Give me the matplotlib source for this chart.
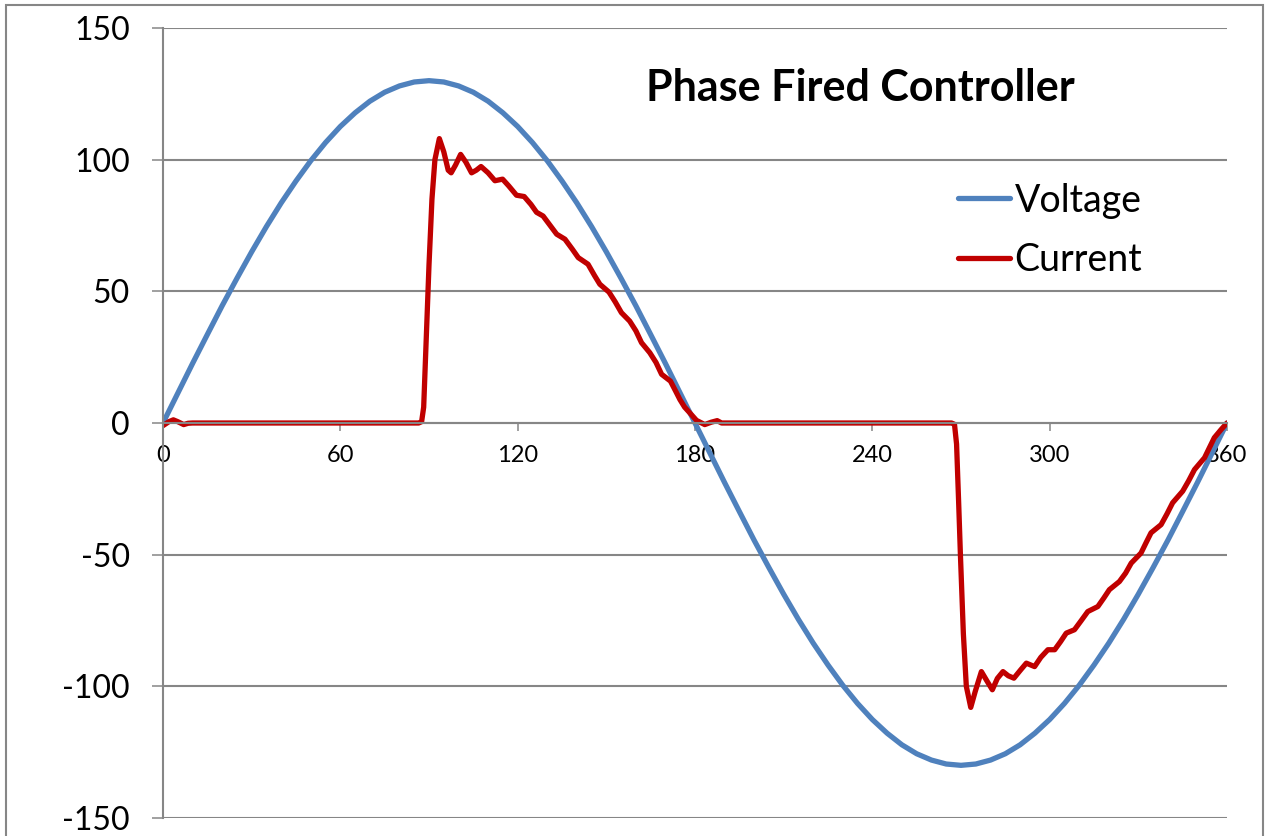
import matplotlib.pyplot as plt
from matplotlib.patches import Rectangle

plt.rcParams['font.family'] = ['Lato', 'DejaVu Sans']
plt.rcParams['axes.unicode_minus'] = False

# Voltage, read every 5 degrees
volt_deg = list(range(0, 361, 5))
volt = [0, 11.3, 22.6, 33.6, 44.5, 54.9, 65.0, 74.6, 83.6, 91.9,
        99.6, 106.5, 112.6, 117.8, 122.2, 125.6, 128.0, 129.5, 130.0,
        129.5, 128.0, 125.6, 122.2, 117.8, 112.6, 106.5, 99.6, 91.9,
        83.6, 74.6, 65.0, 54.9, 44.5, 33.6, 22.6, 11.3, 0,
        -11.3, -22.6, -33.6, -44.5, -54.9, -65.0, -74.6, -83.6, -91.9,
        -99.6, -106.5, -112.6, -117.8, -122.2, -125.6, -128.0, -129.5, -130.0,
        -129.5, -128.0, -125.6, -122.2, -117.8, -112.6, -106.5, -99.6, -91.9,
        -83.6, -74.6, -65.0, -54.9, -44.5, -33.6, -22.6, -11.3, 0]

# Current, read at turning points
curr_deg = [0, 2, 3.5, 5, 7, 8.5, 10, 86.5, 87.5, 88.2, 89, 90, 91, 92, 93.5, 95, 96.5,
            97.5, 99, 100.7, 102.5, 104.4, 106, 107.6, 110, 112.3, 114.9, 117,
            119.6, 122.2, 124.5, 126.4, 128.6, 131, 133.2, 136, 138.5, 140.5,
            143.8, 146, 147.8, 150.9, 153, 155.1, 157.9, 160, 161.9, 164.7,
            166.8, 168.7, 171.7, 173.5, 174.9, 176.5, 178.2, 180.5, 183.3,
            185.5, 187.5, 189, 266.8, 267.8, 268.5, 269.2, 269.8, 270.8, 271.8, 273.3,
            274.8, 276.9, 278.8, 280.6, 282.3, 284.2, 286, 287.9, 290, 292.1,
            294.9, 297, 299.4, 301.7, 303.7, 305.6, 308.4, 310.7, 312.9, 316.3,
            318.3, 320.2, 323.6, 325.7, 327.6, 330.9, 332.6, 334.3, 337.7,
            339.7, 341.6, 345, 347, 349, 352.4, 354, 355.7, 358, 360]
curr = [-1.0, 0.5, 1.2, 0.5, -0.6, -0.1, 0, 0, 0.5, 6, 30, 60, 85, 100, 108, 103, 96,
        95, 98, 102, 99, 95, 96, 97.4, 95, 92, 92.6, 90,
        86.5, 86, 83, 80, 78.6, 75, 71.7, 69.8, 66, 62.8,
        60.3, 56, 52.7, 49.7, 46, 41.9, 38.7, 35, 30.5, 26.7,
        23, 18.5, 15.9, 12, 8.9, 6, 3.9, 1, -0.6,
        0.3, 0.9, 0, 0, -0.5, -8, -30, -50, -80, -100, -108,
        -102, -94.4, -98, -101.3, -97, -94.4, -96, -96.9, -94, -91.2,
        -92.5, -89, -86.1, -86.1, -83, -79.8, -78.5, -75, -71.6, -69.7,
        -66.5, -63.3, -60.2, -57, -53.2, -49.4, -45.5, -41.7, -38.6,
        -34.5, -30.3, -25.9, -22, -17.7, -13.2, -9.5, -5.6, -2.5, 0]

x_ticks = [0, 60, 120, 180, 240, 300, 360]
y_ticks = [-150, -100, -50, 0, 50, 100, 150]

grey = "#868686"

fig = plt.figure(figsize=(12.66, 8.36), dpi=100)
ax = fig.add_axes([163 / 1266, 1 - 818 / 836, (1227 - 163) / 1266, 790 / 836])

ax.plot(volt_deg, volt, color="#4F81BD", lw=3.8, label="Voltage",
        solid_capstyle="round", solid_joinstyle="round")
ax.plot(curr_deg, curr, color="#C00000", lw=3.8, label="Current",
        solid_capstyle="round", solid_joinstyle="round")

ax.set_xlim(0, 360)
ax.set_ylim(-150, 150)
ax.set_xticks(x_ticks)
ax.set_yticks(y_ticks)
ax.yaxis.grid(True, color=grey, lw=1.5)
ax.set_axisbelow(True)

for s in ["top", "right"]:
    ax.spines[s].set_visible(False)
ax.spines["left"].set_color(grey)
ax.spines["left"].set_linewidth(1.5)
ax.spines["bottom"].set_position(("data", 0))
ax.spines["bottom"].set_color(grey)
ax.spines["bottom"].set_linewidth(1.5)

ax.tick_params(axis="y", length=8, width=1.1, color=grey, pad=16, labelsize=23)
ax.tick_params(axis="x", length=6, width=1.1, color=grey, pad=10, labelsize=17, direction="out")

ax.text(0.655, 0.924, "Phase Fired Controller", transform=ax.transAxes,
        ha="center", va="center", fontsize=31, fontweight="bold")

ax.legend(loc="upper left", bbox_to_anchor=(0.715, 0.847), frameon=False,
          fontsize=27, handlelength=1.39, handletextpad=0.13, labelspacing=0.62)

fig.patches.append(Rectangle((6 / 1266, -0.02), (1263 - 6) / 1266, 1.02 - 5 / 836,
                             transform=fig.transFigure, fill=False,
                             edgecolor=grey, lw=1.5))

fig.savefig("out.png", dpi=100)
